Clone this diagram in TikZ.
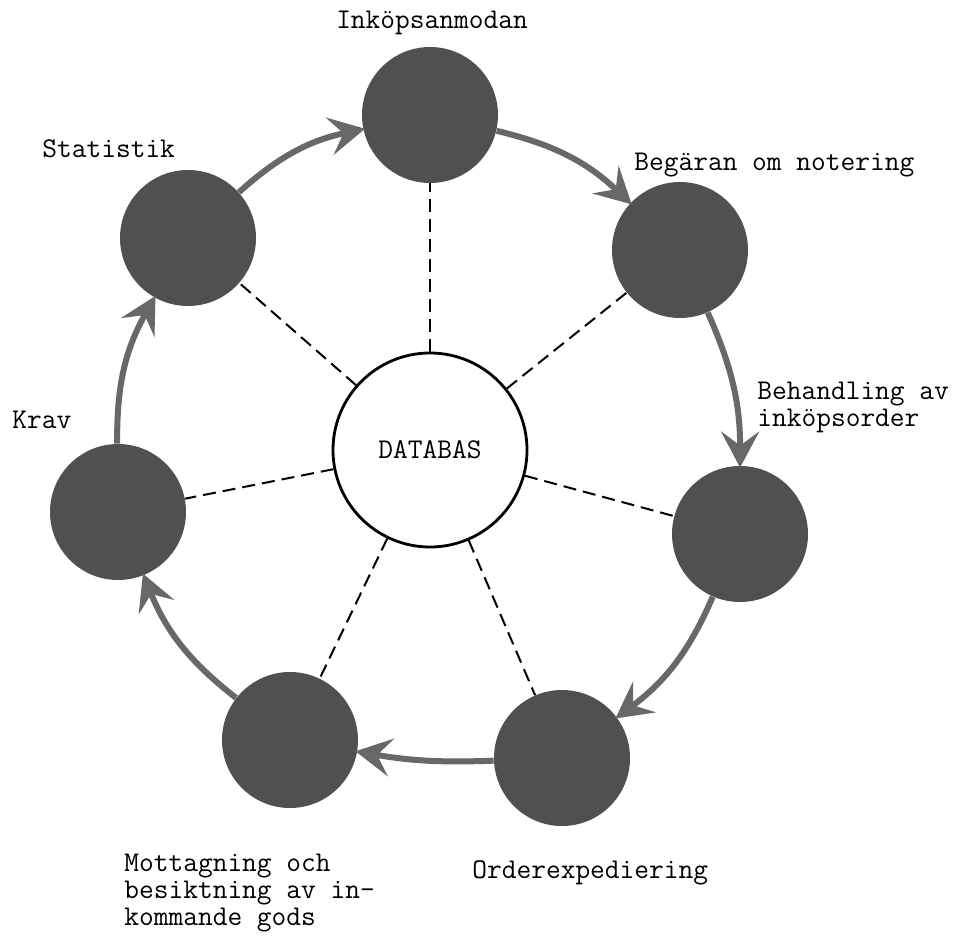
\documentclass[tikz,border=0pt]{standalone}
\usepackage{fontspec}
\usetikzlibrary{arrows.meta}
\usetikzlibrary{positioning}
\definecolor{diskgray}{HTML}{505050}
\definecolor{flowgray}{HTML}{686868}

\begin{document}
\begin{tikzpicture}[x=0.5pt,y=-0.5pt]
		\tikzset{vertex/.style = {shape=circle,fill=diskgray,minimum size=68pt,inner sep=0pt}}
		\tikzset{base/.style = {shape=circle,draw,line width=1.4pt,minimum size=97pt,inner sep=0pt}}
		\tikzset{label/.style = {inner sep=0pt,font=\ttfamily\fontsize{14.3pt}{13.5pt}\selectfont}}
		\tikzset{flow/.style = {draw=flowgray,line width=3pt,-{Stealth[length=18pt,width=19pt,inset=7pt,fill=flowgray]},shorten >=-1pt}}
		\tikzset{link/.style = {line width=1pt,dash pattern=on 6.5pt off 3.5pt}}
		\useasboundingbox (0,0) rectangle (962,936);
		% vertices
		\node[base,label] (db) at (430,450) {DATABAS};
		\node[vertex] (inkop) at (430,115) {};
		\node[vertex] (beg) at (680,250) {};
		\node[vertex] (beh) at (740,534) {};
		\node[vertex] (order) at (562,758) {};
		\node[vertex] (mott) at (290,740) {};
		\node[vertex] (krav) at (118,512) {};
		\node[vertex] (stat) at (188,238) {};
		
		% labels
		\node[label,anchor=base] (tinkop) at (432,29) {Inköpsanmodan};
		\node[label,anchor=base west] (tbeg) at (634,170) {Begäran om notering};
		\node[label,anchor=north west,align=left] (tbeh) at (757,382) {Behandling av\\inköpsorder};
		\node[label,anchor=base west] (torder) at (472,878) {Orderexpediering};
		\node[label,anchor=north west,align=left] (tmott) at (124,854) {Mottagning och\\besiktning av in-\\kommande gods};
		\node[label,anchor=base west] (tkrav) at (12,428) {Krav};
		\node[label,anchor=base west] (tstat) at (42,158) {Statistik};
		
		%edges
		\draw[flow] (krav) to[bend left=15] (stat);
		\draw[flow] (stat) to[bend left=15] (inkop);
		\draw[flow] (inkop) to[bend left=15] (beg);
		\draw[flow] (beg) to[bend left=12] (beh);
		\draw[flow] (beh) to[bend left=15] (order);
		\draw[flow] (order) to[bend left=6] (mott);
		\draw[flow] (mott) to[bend left=15] (krav);
		
		\foreach \v in {inkop,beg,beh,order,mott,krav,stat}
		\draw[link] (db) -- (\v);
\end{tikzpicture}
\end{document}
